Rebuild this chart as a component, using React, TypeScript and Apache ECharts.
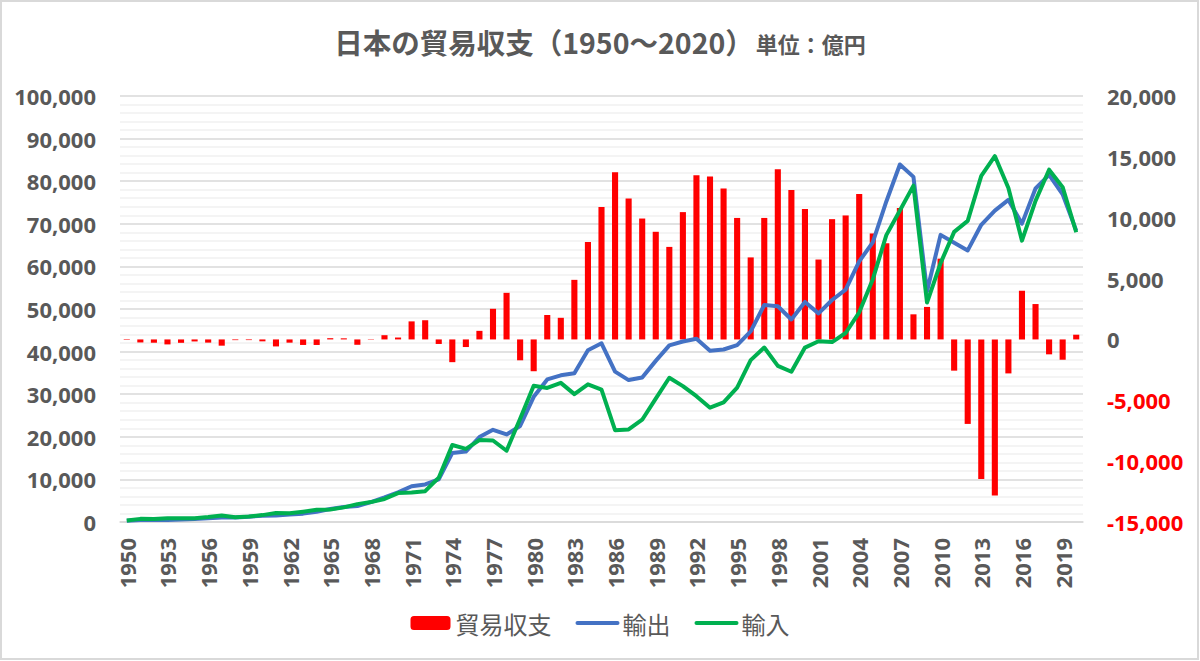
import { useEffect, useRef } from 'react';
import * as echarts from 'echarts';

// 年（カテゴリ）
const years = Array.from({ length: 71 }, (_, i) => String(1950 + i));

// 輸出（左軸）
const exportsData = [
  298, 489, 458, 459, 586, 724, 901, 1029, 1035, 1245,
  1460, 1525, 1763, 1963, 2402, 3043, 3520, 3759, 4676, 5756,
  6954, 8393, 8806, 10031, 16208, 16545, 19935, 21648, 20556, 22532,
  29383, 33469, 34433, 34909, 40325, 41956, 35290, 33315, 33939, 37823,
  41457, 42360, 43012, 40202, 40498, 41531, 44731, 50938, 50645, 47548,
  51654, 48979, 52109, 54548, 61170, 65657, 75246, 83931, 81018, 54171,
  67400, 65547, 63748, 69774, 73093, 75614, 70036, 78287, 81479, 76932,
  68399,
];

// 輸入（左軸）
const importsData = [
  348, 737, 729, 868, 864, 890, 1164, 1542, 1093, 1299,
  1617, 2099, 2029, 2417, 2858, 2941, 3428, 4199, 4675, 5409,
  6797, 6910, 7229, 10404, 18076, 17170, 19229, 19132, 16728, 24245,
  31995, 31464, 32656, 30015, 32321, 31085, 21551, 21737, 24006, 28979,
  33855, 31900, 29527, 26826, 28104, 31549, 37993, 40956, 36654, 35268,
  40938, 42416, 42228, 44362, 49217, 56949, 67344, 73136, 78955, 51499,
  60765, 68111, 70689, 81243, 85909, 78406, 66042, 75379, 82703, 78600,
  68011,
];

// 貿易収支（右軸）
const balanceData = [
  -50, -248, -271, -409, -278, -166, -263, -513, -58, -55,
  -157, -575, -266, -454, -455, 102, 91, -440, 30, 348,
  157, 1483, 1577, -373, -1868, -625, 705, 2516, 3828, -1714,
  -2613, 2005, 1776, 4895, 8004, 10871, 13739, 11578, 9933, 8844,
  7602, 10460, 13485, 13376, 12393, 9982, 6738, 9982, 13991, 12280,
  10716, 6564, 9882, 10186, 11953, 8707, 7902, 10796, 2063, 2671,
  6635, -2565, -6941, -11468, -12816, -2792, 3994, 2907, -1225, -1668,
  388,
];

const TEXT = '#595959';
const RED = '#FF0000';
const BLUE = '#4472C4';
const GREEN = '#00B050';
const NUM_FONT = '"Noto Sans", "Noto Sans CJK JP", sans-serif';
const JP_FONT = '"Noto Sans CJK JP", sans-serif';

const fmt = (v: number) => v.toLocaleString('en-US');

const App = () => {
  const chartRef = useRef<HTMLDivElement>(null);

  useEffect(() => {
    if (!chartRef.current) return;
    const chart = echarts.init(chartRef.current, undefined, { renderer: 'svg' });

    const option: echarts.EChartsOption = {
      animation: false,
      backgroundColor: '#fff',
      title: {
        text: '{main|日本の貿易収支（1950～2020）}{unit|単位：億円}',
        left: 'center',
        top: 22,
        textStyle: {
          rich: {
            main: { fontSize: 28.5, fontWeight: 'bold', color: TEXT, fontFamily: JP_FONT },
            unit: { fontSize: 22, fontWeight: 'bold', color: TEXT, fontFamily: JP_FONT, padding: [4, 0, 0, 2] },
          },
        },
      },
      graphic: [
        {
          type: 'rect',
          shape: { x: 1, y: 1, width: 1197, height: 658 },
          style: { fill: 'none', stroke: '#D9D9D9', lineWidth: 2 },
          silent: true,
        },
      ],
      legend: {
        data: [
          { name: '貿易収支' },
          { name: '輸出', itemStyle: { opacity: 0 }, lineStyle: { width: 4, cap: 'round' } },
          { name: '輸入', itemStyle: { opacity: 0 }, lineStyle: { width: 4, cap: 'round' } },
        ],
        bottom: 21,
        left: 'center',
        itemWidth: 40,
        itemHeight: 14,
        itemGap: 24,
        textStyle: { fontSize: 24, color: TEXT, fontFamily: JP_FONT },
      },
      grid: { left: 120, right: 117, top: 96, bottom: 139 },
      xAxis: {
        type: 'category',
        data: years,
        axisLine: { lineStyle: { color: '#D9D9D9', width: 1.5 } },
        axisTick: { show: false },
        axisLabel: {
          interval: 2,
          rotate: 90,
          margin: 16,
          color: TEXT,
          fontSize: 22,
          fontWeight: 'bold',
          fontFamily: NUM_FONT,
        },
      },
      yAxis: [
        {
          type: 'value',
          min: 0,
          max: 100000,
          interval: 10000,
          axisLine: { show: false },
          axisTick: { show: false },
          axisLabel: {
            margin: 24,
            color: TEXT,
            fontSize: 22,
            fontWeight: 'bold',
            fontFamily: NUM_FONT,
            formatter: (v: number) => fmt(v),
          },
          splitLine: { lineStyle: { color: '#D9D9D9', width: 1.5 } },
          minorTick: { show: false, splitNumber: 5 },
          minorSplitLine: { show: true, lineStyle: { color: '#F0F0F0', width: 1.5 } },
        },
        {
          type: 'value',
          min: -15000,
          max: 20000,
          interval: 5000,
          axisLine: { show: false },
          axisTick: { show: false },
          splitLine: { show: false },
          axisLabel: {
            margin: 24,
            fontSize: 22,
            fontWeight: 'bold',
            fontFamily: NUM_FONT,
            color: ((v: number) => (v < 0 ? RED : TEXT)) as any,
            formatter: (v: number) => fmt(v),
          },
        },
      ],
      series: [
        {
          name: '貿易収支',
          type: 'bar',
          yAxisIndex: 1,
          data: balanceData,
          barWidth: '45%',
          itemStyle: { color: RED },
        },
        {
          name: '輸出',
          type: 'line',
          yAxisIndex: 0,
          data: exportsData,
          symbol: 'none',
          lineStyle: { color: BLUE, width: 4, join: 'round' },
          itemStyle: { color: BLUE },
        },
        {
          name: '輸入',
          type: 'line',
          yAxisIndex: 0,
          data: importsData,
          symbol: 'none',
          lineStyle: { color: GREEN, width: 4, join: 'round' },
          itemStyle: { color: GREEN },
        },
      ],
    };

    chart.setOption(option);

    return () => {
      chart.dispose();
    };
  }, []);

  return (
    <div
      ref={chartRef}
      style={{ position: 'fixed', left: 0, top: 0, width: 1200, height: 661 }}
    />
  );
};

export default App;
